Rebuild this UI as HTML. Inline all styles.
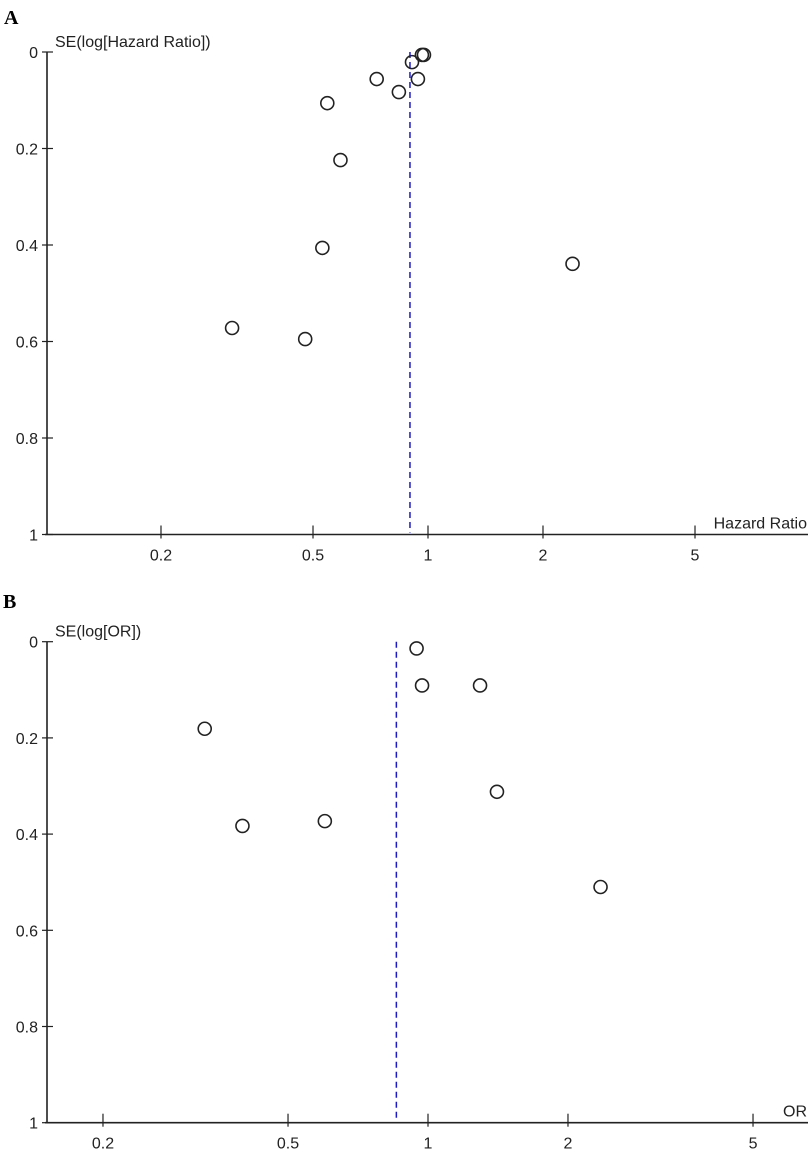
<!DOCTYPE html>
<html><head><meta charset="utf-8"><style>
body{margin:0;background:#fff;}
svg{display:block;font-family:"Liberation Sans",sans-serif;}
</style></head><body>
<svg id="chart" width="810" height="1150" viewBox="0 0 810 1150" xmlns="http://www.w3.org/2000/svg"></svg>
<script>
const hrValues=[0.545,0.734,0.839,0.908,0.941,0.964,0.976,0.590,0.529,2.39,0.307,0.477];
const hrSE=[0.106,0.056,0.083,0.021,0.056,0.006,0.006,0.224,0.406,0.439,0.572,0.595];
const hrPooled=0.897;
const orValues=[0.945,0.971,1.294,0.331,1.407,0.399,0.600,2.35];
const orSE=[0.014,0.091,0.091,0.181,0.312,0.383,0.373,0.510];
const orPooled=0.855;
const xTicks=[0.2,0.5,1,2,5];
const xTickLabels=["0.2","0.5","1","2","5"];
const yTicks=[0,0.2,0.4,0.6,0.8,1];
const yTickLabels=["0","0.2","0.4","0.6","0.8","1"];

const NS="http://www.w3.org/2000/svg";
const svg=document.getElementById('chart');
function mk(tag,attrs,parent){const e=document.createElementNS(NS,tag);for(const k in attrs)e.setAttribute(k,attrs[k]);(parent||svg).appendChild(e);return e;}

function panel(cfg){
  const g=mk('g',{});
  
  
  const x=v=>cfg.x0+cfg.dec*Math.log10(v);
  const y=s=>cfg.y0+cfg.ppu*s;
  const axY=y(1);
  const letter=mk('text',{x:cfg.lx,y:cfg.ly,'font-family':'Liberation Serif,serif','font-weight':'bold','font-size':'20',fill:'#000'},g);
  letter.textContent=cfg.letter;
  
  
  const ya=mk('line',{x1:47,y1:y(0),x2:47,y2:axY,stroke:'#222','stroke-width':'1.6'},g);
  
  
  const xa=mk('line',{x1:45,y1:axY,x2:808,y2:axY,stroke:'#222','stroke-width':'1.6'},g);
  
  
  yTicks.forEach((t,i)=>{
    mk('line',{x1:42,y1:y(t),x2:53,y2:y(t),stroke:'#222','stroke-width':'1.2'},g);
    const tx=mk('text',{x:38,y:y(t)+6,'text-anchor':'end','font-size':'16',fill:'#222'},g);
    tx.textContent=yTickLabels[i];
    
    
  });
  xTicks.forEach((t,i)=>{
    mk('line',{x1:x(t),y1:axY-9,x2:x(t),y2:axY+4,stroke:'#222','stroke-width':'1.2'},g);
    const tx=mk('text',{x:x(t),y:axY+26,'text-anchor':'middle','font-size':'16',fill:'#222'},g);
    tx.textContent=xTickLabels[i];
    
    
  });
  const yt=mk('text',{x:55,y:y(0)-5,'font-size':'16',fill:'#222'},g);
  yt.textContent=cfg.ytitle;
  
  
  const xt=mk('text',{x:807,y:axY-6,'text-anchor':'end','font-size':'16',fill:'#222'},g);
  xt.textContent=cfg.xtitle;
  
  
  const pl=mk('line',{x1:x(cfg.pooled),y1:y(0),x2:x(cfg.pooled),y2:axY-2,stroke:'#1a1acc','stroke-width':'1.5','stroke-dasharray':'6,4'},g);
  
  
  cfg.vals.forEach((v,i)=>{
    const c=mk('circle',{cx:x(v),cy:y(cfg.se[i]),r:6.5,fill:'none',stroke:'#222','stroke-width':'1.6'},g);
    
    
  });
}
panel({name:'panel-a-hazard-ratio',letter:'A',lx:4,ly:24,x0:428,dec:382,y0:52,ppu:482.5,ytitle:'SE(log[Hazard Ratio])',xtitle:'Hazard Ratio',pooled:hrPooled,vals:hrValues,se:hrSE});
panel({name:'panel-b-odds-ratio',letter:'B',lx:3,ly:608,x0:428,dec:465,y0:641.7,ppu:481,ytitle:'SE(log[OR])',xtitle:'OR',pooled:orPooled,vals:orValues,se:orSE});
</script>
</body></html>
